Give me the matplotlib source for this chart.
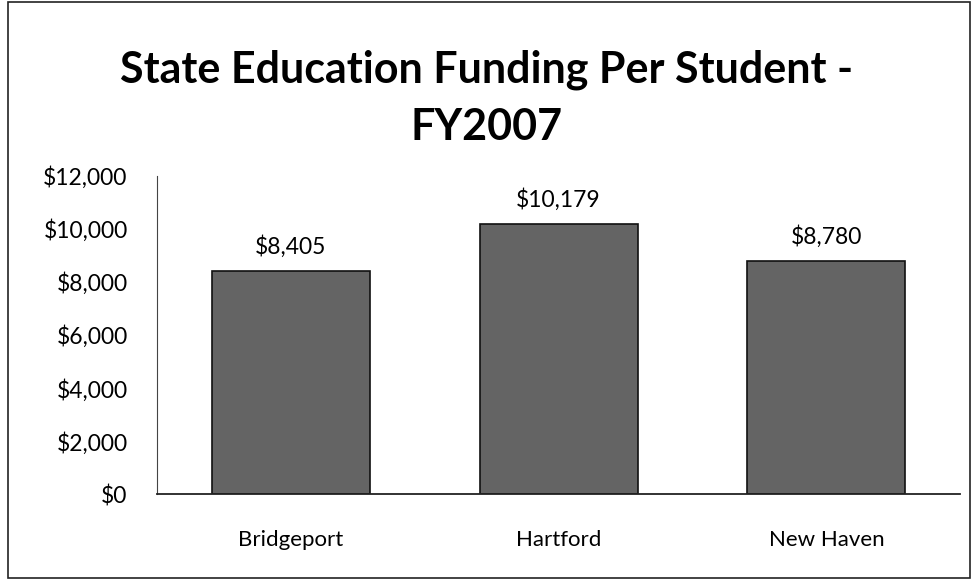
import matplotlib.pyplot as plt
from matplotlib.patches import Rectangle
from matplotlib.ticker import FuncFormatter

cities = ['Bridgeport', 'Hartford', 'New Haven']
funding = [8405, 10179, 8780]
yticks = [0, 2000, 4000, 6000, 8000, 10000, 12000]

plt.rcParams['font.family'] = ['Lato', 'DejaVu Sans']

fig = plt.figure(figsize=(9.74, 5.8), dpi=100)
ax = fig.add_axes([0.161, 0.148, 0.825, 0.549])

x = range(len(cities))
bars = ax.bar(x, funding, width=0.59, color='#646464', edgecolor='#111111', linewidth=1.2)

for b, v in zip(bars, funding):
    ax.text(b.get_x() + b.get_width() / 2, v + 500, '${:,}'.format(v),
            ha='center', va='bottom', fontsize=16.5)

ax.set_xlim(-0.5, len(cities) - 0.5)
ax.set_ylim(0, 12000)
ax.set_yticks(yticks)
ax.yaxis.set_major_formatter(FuncFormatter(lambda v, p: '${:,.0f}'.format(v)))
ax.set_xticks(list(x))
ax.set_xticklabels(cities)
ax.tick_params(axis='y', length=0, labelsize=16.5, pad=21)
ax.tick_params(axis='x', length=0, labelsize=16, pad=26)

for s in ['top', 'right']:
    ax.spines[s].set_visible(False)
ax.spines['left'].set_color('#444444')
ax.spines['bottom'].set_color('#222222')
ax.spines['bottom'].set_linewidth(1.3)

fig.text(0.500, 0.831, 'State Education Funding Per Student -\nFY2007',
         ha='center', va='center', fontsize=31, fontweight='bold', linespacing=1.5)

fig.patches.append(Rectangle((0.008, 0.003), 0.988, 0.994, transform=fig.transFigure,
                             fill=False, edgecolor='#222222', linewidth=1.2))

plt.savefig('out.png', dpi=100)
